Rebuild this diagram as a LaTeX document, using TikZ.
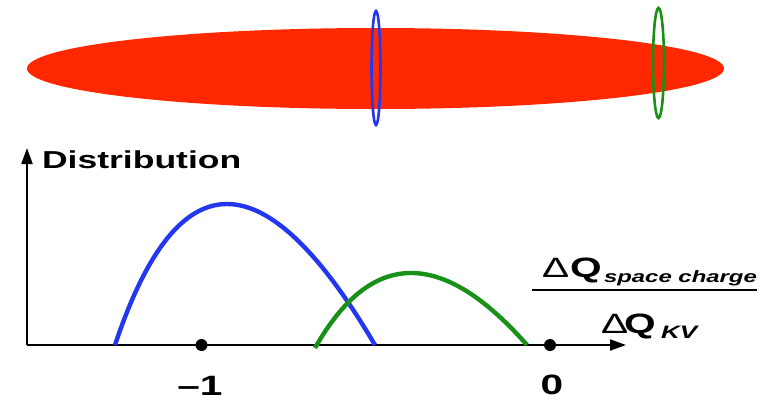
\documentclass[tikz,border=0pt]{standalone}
\usepackage{fontspec}
\setmainfont{Liberation Sans}
\usetikzlibrary{arrows.meta}
\definecolor{beamred}{RGB}{255,40,0}
\definecolor{ringblue}{RGB}{35,55,240}
\definecolor{ringgreen}{RGB}{25,145,25}
\newcommand\hs[1]{\scalebox{1.45}[1]{#1}}
\newcommand\fsz[1]{\fontsize{#1}{#1}\selectfont}
\begin{document}
\begin{tikzpicture}[x=1pt,y=-1pt,
  txt/.style={inner sep=0pt, outer sep=0pt, anchor=base west},
  axisline/.style={line width=2pt, -{Triangle[length=16pt,width=11pt]}},
  curveline/.style={line width=4.4pt},
  ringline/.style={line width=2.6pt},
  dotmark/.style={circle, fill=black, inner sep=0pt, minimum size=12pt}]
\useasboundingbox (0,0) rectangle (763,400);
% beam and rings
\fill[beamred] (375.5,68.5) ellipse [x radius=348.5, y radius=40.5];
\draw[ringline, ringblue] (376,68) ellipse [x radius=4.5, y radius=57];
\draw[ringline, ringgreen] (658.5,63) ellipse [x radius=5.5, y radius=55];
% axes
\coordinate (O) at (27,345);
\coordinate (xend) at (626,345);
\coordinate (yend) at (27,148);
\draw[axisline] (O) -- (xend);
\draw[axisline] (O) -- (yend);
\node[dotmark] (m1) at (201.5,345) {};
\node[dotmark] (z0) at (550,345) {};
% curves
\coordinate (b0) at (115,345);
\coordinate (b1) at (375,345);
\coordinate (g0) at (315,348);
\coordinate (g1) at (527,345);
\draw[curveline, ringblue] (b0) .. controls (177.7,157) and (264.3,157) .. (b1);
\draw[curveline, ringgreen] (g0) .. controls (371,249) and (441.7,248) .. (g1);
% labels
\node[txt] (dist) at (42,168) {\hs{\fsz{24.5}\bfseries Distribution}};
\node[inner sep=0pt, anchor=base] (lm1) at (200,395) {\hs{\fsz{28}\bfseries –1}};
\node[inner sep=0pt, anchor=base] (l0) at (552,394) {\hs{\fsz{28}\bfseries 0}};
% fraction
\node[txt] (d1) at (542,277) {\hs{\fsz{28}Δ}};
\node[txt] (q1) at (570,277) {\hs{\fsz{28}\bfseries Q}};
\node[txt] (s1) at (604,282) {\hs{\fsz{16.5}\bfseries\itshape space charge}};
\coordinate (fl) at (532,290);
\coordinate (fr) at (757,290);
\draw[line width=1.6pt] (fl) -- (fr);
\node[txt] (d2) at (601,333) {\hs{\fsz{28}Δ}};
\node[txt] (q2) at (624,333) {\hs{\fsz{28}\bfseries Q}};
\node[txt] (kv) at (661,338) {\hs{\fsz{18}\bfseries\itshape KV}};
\end{tikzpicture}
\end{document}
